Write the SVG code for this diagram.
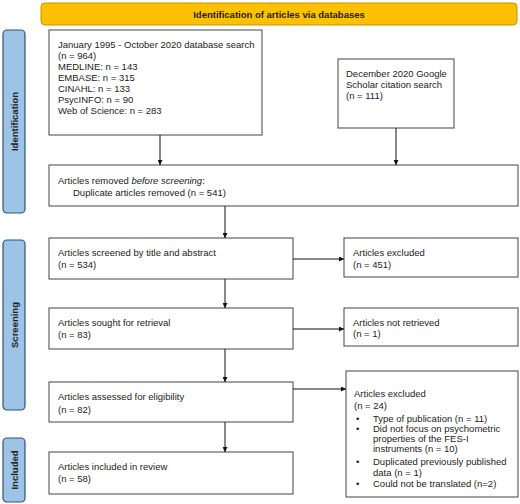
<svg xmlns="http://www.w3.org/2000/svg" width="520" height="504" viewBox="0 0 520 504">
<defs>
<marker id="ah" viewBox="0 0 10 10" refX="10" refY="5" markerWidth="5" markerHeight="5" orient="auto" markerUnits="userSpaceOnUse">
<path d="M0,0 L10,5 L0,10 z" fill="#111"/>
</marker>
<style>
.box{fill:#fff;stroke:#444;stroke-width:1}
.side{fill:#9DC3E6;stroke:#2F5573;stroke-width:1.2}
.banner{fill:#FFC000;stroke:#C49400;stroke-width:1}
text{font-family:"Liberation Sans",Arial,sans-serif;font-size:9.5px;fill:#222}
.b{font-weight:bold}
.sl{font-weight:bold;text-anchor:middle}
.c{stroke:#111;stroke-width:1;fill:none;marker-end:url(#ah)}
</style>
</defs>
<rect width="520" height="504" fill="#fff"/>
<g id="banner">
<rect class="banner" x="41" y="3" width="476" height="22" rx="4"/>
<text class="b" x="279" y="17.5" text-anchor="middle">Identification of articles via databases</text>
</g>
<g id="side-identification">
<rect class="side" x="3" y="30" width="22" height="183" rx="4"/>
<text class="sl" transform="translate(17.5,121.5) rotate(-90)">Identification</text>
</g>
<g id="side-screening">
<rect class="side" x="3" y="240" width="22" height="170" rx="4"/>
<text class="sl" transform="translate(17.5,325) rotate(-90)">Screening</text>
</g>
<g id="side-included">
<rect class="side" x="3" y="438" width="22" height="64" rx="4"/>
<text class="sl" transform="translate(17.5,470) rotate(-90)">Included</text>
</g>
<g id="db-search">
<rect class="box" x="49" y="30" width="213" height="105"/>
<text x="58" y="47.5">January 1995 - October 2020 database search</text>
<text x="58" y="58.5">(n = 964)</text>
<text x="58" y="69.5">MEDLINE: n = 143</text>
<text x="58" y="80.5">EMBASE: n = 315</text>
<text x="58" y="91.5">CINAHL: n = 133</text>
<text x="58" y="102.5">PsycINFO: n = 90</text>
<text x="58" y="113.5">Web of Science: n = 283</text>
</g>
<g id="google">
<rect class="box" x="338" y="59" width="116" height="69"/>
<text x="346" y="76.5">December 2020 Google</text>
<text x="346" y="87.5">Scholar citation search</text>
<text x="346" y="98.5">(n = 111)</text>
</g>
<g id="removed">
<rect class="box" x="49" y="165" width="469" height="41"/>
<text x="58" y="183.5">Articles removed <tspan font-style="italic">before screening</tspan>:</text>
<text x="73" y="195.5">Duplicate articles removed (n = 541)</text>
</g>
<g id="screened">
<rect class="box" x="49" y="238" width="244" height="41"/>
<text x="58" y="255.5">Articles screened by title and abstract</text>
<text x="58" y="267.5">(n = 534)</text>
</g>
<g id="excluded1">
<rect class="box" x="344" y="238" width="174" height="39"/>
<text x="353" y="255.5">Articles excluded</text>
<text x="353" y="267.5">(n = 451)</text>
</g>
<g id="sought">
<rect class="box" x="49" y="308" width="244" height="41"/>
<text x="58" y="325.5">Articles sought for retrieval</text>
<text x="58" y="337.5">(n = 83)</text>
</g>
<g id="not-retrieved">
<rect class="box" x="344" y="308" width="174" height="38"/>
<text x="353" y="325.5">Articles not retrieved</text>
<text x="353" y="337">(n = 1)</text>
</g>
<g id="assessed">
<rect class="box" x="49" y="382" width="244" height="40"/>
<text x="58" y="399.5">Articles assessed for eligibility</text>
<text x="58" y="413">(n = 82)</text>
</g>
<g id="excluded2">
<rect class="box" x="346" y="371" width="172" height="126"/>
<text x="354" y="396.5">Articles excluded</text>
<text x="354" y="408.5">(n = 24)</text>
<text x="356" y="421.5">•</text><text x="373" y="421.5">Type of publication (n = 11)</text>
<text x="356" y="431.5">•</text><text x="373" y="431.5">Did not focus on psychometric</text>
<text x="373" y="441.5">properties of the FES-I</text>
<text x="373" y="452">instruments (n = 10)</text>
<text x="356" y="464.5">•</text><text x="373" y="464.5">Duplicated previously published</text>
<text x="373" y="475.5">data (n = 1)</text>
<text x="356" y="486.5">•</text><text x="373" y="486.5">Could not be translated (n=2)</text>
</g>
<g id="included">
<rect class="box" x="49" y="452" width="244" height="42"/>
<text x="58" y="469.5">Articles included in review</text>
<text x="58" y="481.5">(n = 58)</text>
</g>
<g id="connectors">
<line class="c" x1="160" y1="135" x2="160" y2="165"/>
<line class="c" x1="396" y1="128" x2="396" y2="165"/>
<line class="c" x1="225" y1="206" x2="225" y2="238"/>
<line class="c" x1="293" y1="259" x2="344" y2="259"/>
<line class="c" x1="225" y1="279" x2="225" y2="308"/>
<line class="c" x1="293" y1="329" x2="344" y2="329"/>
<line class="c" x1="225" y1="349" x2="225" y2="382"/>
<line class="c" x1="293" y1="389" x2="346" y2="389"/>
<line class="c" x1="225" y1="422" x2="225" y2="452"/>
</g>
</svg>
